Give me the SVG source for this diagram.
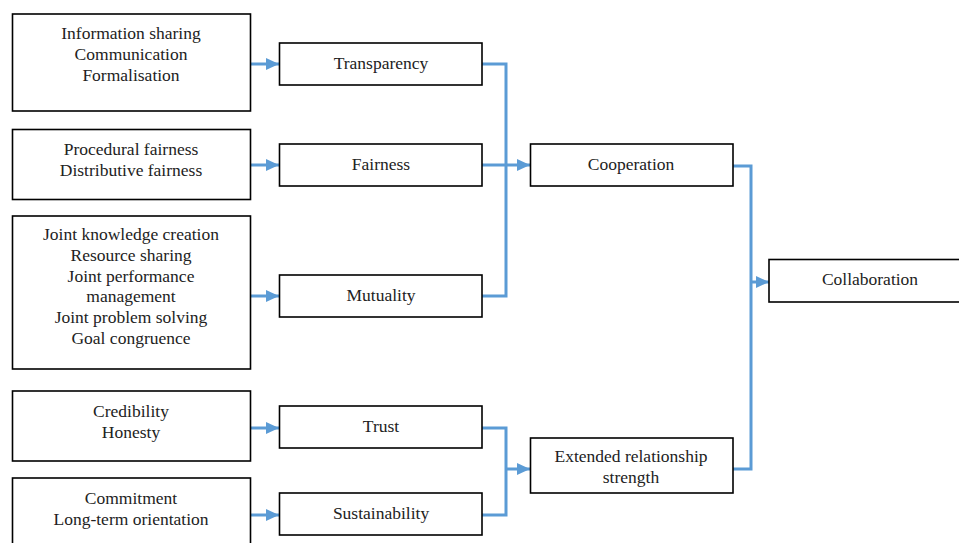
<svg xmlns="http://www.w3.org/2000/svg" width="959" height="543" viewBox="0 0 959 543">
<style>
.box{fill:#fff;stroke:#000;stroke-width:1.6}
.t{font-family:'Liberation Serif','Times New Roman',Tinos,'DejaVu Serif',serif;font-size:17.5px;fill:#222;text-anchor:middle}
.c{fill:none;stroke:#5B9BD5;stroke-width:3}
</style>
<defs>
<marker id="ah" markerUnits="userSpaceOnUse" markerWidth="14" markerHeight="12" refX="13" refY="6" orient="auto">
<path d="M0,0 L13,6 L0,12 Z" fill="#5B9BD5"/>
</marker>
</defs>
<rect width="959" height="543" fill="#fff"/>
<g id="connectors">
<path class="c" d="M250,64 H279" marker-end="url(#ah)"/>
<path class="c" d="M250,165 H279" marker-end="url(#ah)"/>
<path class="c" d="M250,296 H279" marker-end="url(#ah)"/>
<path class="c" d="M250,428 H279" marker-end="url(#ah)"/>
<path class="c" d="M250,515 H279" marker-end="url(#ah)"/>
<path class="c" d="M482,64 H506 V296 H482"/>
<path class="c" d="M482,165 H506"/>
<path class="c" d="M506,165 H530" marker-end="url(#ah)"/>
<path class="c" d="M482,428 H506 V515 H482"/>
<path class="c" d="M506,469 H530" marker-end="url(#ah)"/>
<path class="c" d="M733,166 H751 V469 H733"/>
<path class="c" d="M751,282 H769" marker-end="url(#ah)"/>
</g>
<g id="n1"><rect class="box" x="12.5" y="14" width="238" height="97"/>
<text class="t" x="131" y="39">Information sharing</text><text class="t" x="131" y="60">Communication</text><text class="t" x="131" y="81">Formalisation</text></g>
<g id="n2"><rect class="box" x="12.5" y="129.5" width="238" height="70"/>
<text class="t" x="131" y="155">Procedural fairness</text><text class="t" x="131" y="176">Distributive fairness</text></g>
<g id="n3"><rect class="box" x="12.5" y="216" width="238" height="153"/>
<text class="t" x="131" y="240">Joint knowledge creation</text><text class="t" x="131" y="261">Resource sharing</text><text class="t" x="131" y="282">Joint performance</text><text class="t" x="131" y="302">management</text><text class="t" x="131" y="323">Joint problem solving</text><text class="t" x="131" y="344">Goal congruence</text></g>
<g id="n4"><rect class="box" x="12.5" y="391" width="238" height="70"/>
<text class="t" x="131" y="417">Credibility</text><text class="t" x="131" y="438">Honesty</text></g>
<g id="n5"><rect class="box" x="12.5" y="478" width="238" height="70"/>
<text class="t" x="131" y="504">Commitment</text><text class="t" x="131" y="525">Long-term orientation</text></g>
<g id="transparency"><rect class="box" x="279.5" y="43" width="202.5" height="42"/><text class="t" x="381" y="69">Transparency</text></g>
<g id="fairness"><rect class="box" x="279.5" y="144" width="202.5" height="42"/><text class="t" x="381" y="170">Fairness</text></g>
<g id="mutuality"><rect class="box" x="279.5" y="275" width="202.5" height="42"/><text class="t" x="381" y="301">Mutuality</text></g>
<g id="trust"><rect class="box" x="279.5" y="406" width="202.5" height="42"/><text class="t" x="381" y="432">Trust</text></g>
<g id="sustainability"><rect class="box" x="279.5" y="493" width="202.5" height="42"/><text class="t" x="381" y="519">Sustainability</text></g>
<g id="cooperation"><rect class="box" x="530.5" y="144" width="202.5" height="42"/><text class="t" x="631" y="170">Cooperation</text></g>
<g id="extended"><rect class="box" x="530.5" y="438" width="202.5" height="55"/><text class="t" x="631" y="462">Extended relationship</text><text class="t" x="631" y="483">strength</text></g>
<g id="collaboration"><rect class="box" x="769" y="259.5" width="195" height="42.5"/><text class="t" x="870" y="285">Collaboration</text></g>
</svg>
